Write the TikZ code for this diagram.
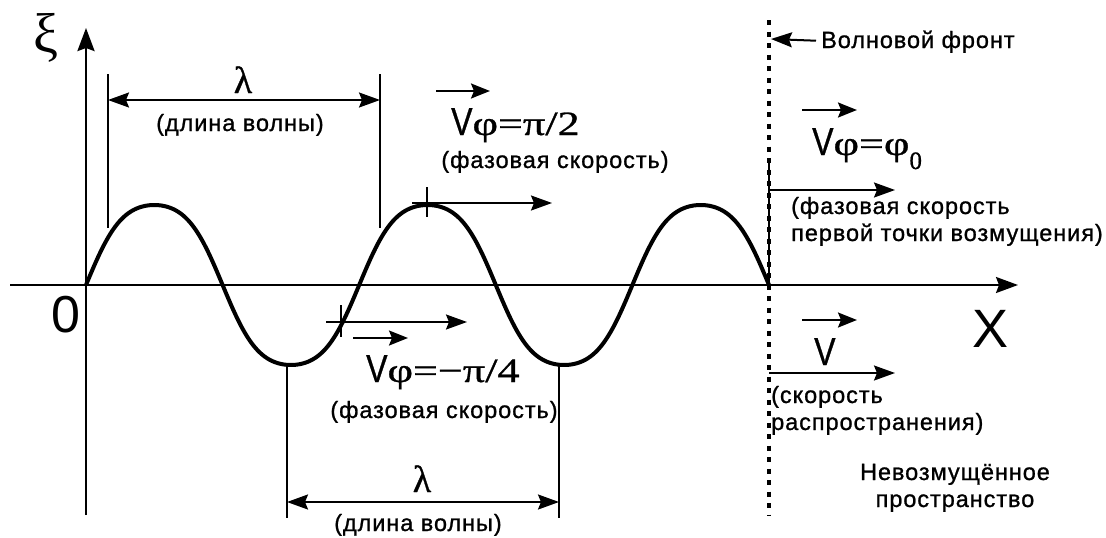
\documentclass[tikz,border=0pt]{standalone}
\usepackage{fontspec}
\usepackage{graphicx}
\setmainfont{Liberation Sans}
\newfontfamily\serfam{Liberation Serif}
\newfontfamily\lblfont[LetterSpace=4,FakeBold=1]{Liberation Sans}
\newfontfamily\vfont[FakeBold=0.8]{Liberation Sans}
\newfontfamily\sfrm[FakeBold=0.8]{Liberation Serif}
\usetikzlibrary{arrows.meta}
\newcommand\Vsym{\scalebox{0.82}[1]{\vfont\fontsize{39}{39}\selectfont V}}
\newcommand\Sf[1]{\scalebox{1.3}[1]{\sfrm\fontsize{34}{34}\selectfont #1}}
\begin{document}
\begin{tikzpicture}[x=1pt,y=-1pt,
  txt/.style={inner sep=0pt, font=\lblfont\fontsize{23.5}{23.5}\selectfont},
  frm/.style={inner sep=0pt, anchor=base west},
  tip/.style={-{Stealth[length=21pt,width=15pt,inset=3pt]}},
  dtip/.style={{Stealth[length=21pt,width=15pt,inset=3pt]}-{Stealth[length=21pt,width=15pt,inset=3pt]}},
  vec/.style={line width=2pt,-{Stealth[length=19pt,width=15pt,inset=3pt]}},
  thin/.style={line width=1.5pt},
  wave/.style={line width=4pt, line join=round},
  dotline/.style={line width=3.4pt, dash pattern=on 5pt off 6.5pt}
]
\useasboundingbox (0,0) rectangle (1106,538);
% key coordinates
\coordinate (O) at (86,285);
\coordinate (yb) at (86,515);
\coordinate (yt) at (86,28);
\coordinate (xl) at (10,285);
\coordinate (xr) at (1018,285);
\coordinate (F0) at (769,285);
\coordinate (Ft) at (769,20);
\coordinate (Fb) at (769,515);
% axes
\draw[line width=2.7pt,-{Stealth[length=23pt,width=17pt,inset=3pt]}] (yb) -- (yt);
\draw[line width=2pt,-{Stealth[length=22pt,width=16pt,inset=3pt]}] (xl) -- (xr);
% wave
\draw[wave] plot[domain=86:769, samples=400] (\x, {285-80*sin((\x-86)*1.31772+8.6*sin(2*(\x-86)*1.31772))});
% wave front
\draw[dotline] (Ft) -- (Fb);
\draw[thin] (769,162) coordinate (s1) -- (F0);
% labels on axes
\node[inner sep=0pt, anchor=base, font=\serfam\fontsize{56}{56}\selectfont] (xi) at (46,52) {ξ};
\node[inner sep=0pt, anchor=base, font=\fontsize{52}{52}\selectfont] (zero) at (66,332) {0};
\node[inner sep=0pt, anchor=base, font=\fontsize{54}{54}\selectfont] (X) at (990,347) {X};
% top lambda
\coordinate (l1a) at (108,74); \coordinate (l1b) at (108,228);
\coordinate (l2a) at (380,74); \coordinate (l2b) at (380,228);
\draw[thin] (l1a) -- (l1b);
\draw[thin] (l2a) -- (l2b);
\draw[line width=2pt,dtip] (108,100) coordinate (d1) -- (380,100) coordinate (d2);
\node[inner sep=0pt, anchor=base, font=\sfrm\fontsize{38}{38}\selectfont] (lam1) at (243,93) {λ};
\node[txt, anchor=base] (dl1) at (240,131) {(длина волны)};
% bottom lambda
\coordinate (m1a) at (287,365); \coordinate (m1b) at (287,518);
\coordinate (m2a) at (559,365); \coordinate (m2b) at (559,518);
\draw[thin] (m1a) -- (m1b);
\draw[thin] (m2a) -- (m2b);
\draw[line width=2pt,dtip] (287,502) coordinate (e1) -- (559,502) coordinate (e2);
\node[inner sep=0pt, anchor=base, font=\sfrm\fontsize{38}{38}\selectfont] (lam2) at (422,492) {λ};
\node[txt, anchor=base] (dl2) at (418,531) {(длина волны)};
% phase pi/2
\draw[line width=1.8pt] (427,187) coordinate (t1a) -- (427,217) coordinate (t1b);
\draw[line width=2pt,tip] (412,203) coordinate (p1) -- (552,203) coordinate (p2);
\draw[vec] (436,91) coordinate (v1a) -- (490,91) coordinate (v1b);
\node[frm] (f1) at (451,135) {\Vsym\Sf{φ=π/2}};
\node[txt, anchor=base] (fs1) at (555,168) {(фазовая скорость)};
% phase -pi/4
\draw[line width=1.8pt] (341,305) coordinate (t2a) -- (341,337) coordinate (t2b);
\draw[line width=2pt,tip] (326,322) coordinate (q1) -- (467,322) coordinate (q2);
\draw[vec] (353,338) coordinate (v2a) -- (408,338) coordinate (v2b);
\node[frm] (f2) at (366,382) {\Vsym\Sf{φ=−π/4}};
\node[txt, anchor=base] (fs2) at (444,418) {(фазовая скорость)};
% phase phi0
\draw[line width=2pt,tip] (769,190) coordinate (r1) -- (895,190) coordinate (r2);
\draw[vec] (802,110) coordinate (v3a) -- (857,110) coordinate (v3b);
\node[frm] (f3) at (812,155) {\Vsym\Sf{φ=φ}\raisebox{-14pt}{\sfrm\fontsize{25}{25}\selectfont 0}};
\node[txt, anchor=base west] (fs3) at (791,214) {(фазовая скорость};
\node[txt, anchor=base west] (fs3b) at (791,241) {первой точки возмущения)};
% propagation speed
\draw[line width=2pt,tip] (769,373) coordinate (u1) -- (895,373) coordinate (u2);
\draw[vec] (802,320) coordinate (v4a) -- (857,320) coordinate (v4b);
\node[frm] (f4) at (814,365) {\Vsym};
\node[txt, anchor=base west] (sp1) at (771,403) {(скорость};
\node[txt, anchor=base west] (sp2) at (771,430) {распространения)};
% undisturbed
\node[txt, anchor=base] (un1) at (955,480) {Невозмущённое};
\node[txt, anchor=base] (un2) at (955,507) {пространство};
% wave front label
\node[txt, anchor=base west] (wf) at (821,48) {Волновой фронт};
\draw[line width=2pt,-{Stealth[length=21pt,width=15pt,inset=3pt]}] (wf.west) ++(-5,-1) coordinate (wfa) -- (771,39) coordinate (wfb);
\end{tikzpicture}
\end{document}
